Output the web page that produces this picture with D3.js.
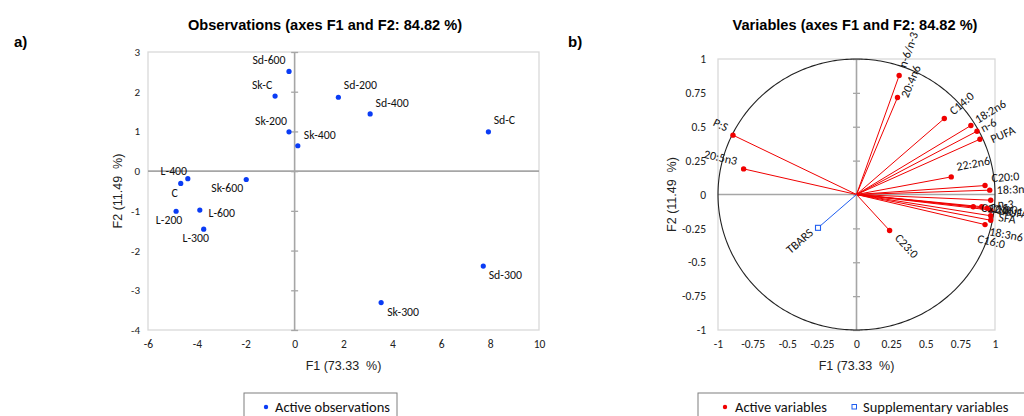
<!DOCTYPE html>
<html>
<head>
<meta charset="utf-8">
<script src="https://cdn.jsdelivr.net/npm/d3@7"></script>
<style>
  body { margin: 0; background: #fff; }
  text { white-space: pre; }
</style>
</head>
<body>
<script>
// observation scores on F1 / F2
const obsNames = ["Sd-600", "Sk-C", "Sd-200", "Sd-400", "Sd-C", "Sk-200", "Sk-400", "L-400", "C", "Sk-600", "L-200", "L-600", "L-300", "Sd-300", "Sk-300"];
const obsF1 = [-0.23, -0.80, 1.79, 3.09, 7.93, -0.23, 0.13, -4.37, -4.66, -1.98, -4.85, -3.88, -3.72, 7.72, 3.54];
const obsF2 = [2.51, 1.89, 1.86, 1.44, 0.99, 0.99, 0.64, -0.19, -0.31, -0.21, -1.01, -0.98, -1.46, -2.39, -3.31];

// active variables, correlations with F1 / F2
const varNames = ["n-6/n-3", "20:4n6", "C14:0", "18:2n6", "n-6", "PUFA", "22:2n6", "C20:0", "18:3n3", "n-3", "C22:0", "C18:0", "C16:1", "MUFA", "SFA", "18:3n6", "C16:0", "C23:0", "P:S", "20:5n3"];
const varF1 = [0.308, 0.296, 0.634, 0.826, 0.870, 0.891, 0.684, 0.928, 0.962, 0.969, 0.843, 0.904, 0.944, 0.969, 0.969, 0.969, 0.928, 0.239, -0.892, -0.815];
const varF2 = [0.878, 0.716, 0.561, 0.509, 0.467, 0.408, 0.130, 0.066, 0.032, -0.042, -0.090, -0.090, -0.102, -0.115, -0.157, -0.190, -0.222, -0.266, 0.438, 0.189];

// supplementary variable
const suppNames = ["TBARS"];
const suppF1 = [-0.278];
const suppF2 = [-0.246];

// axis ticks
const obsXTicks = [-6, -4, -2, 0, 2, 4, 6, 8, 10];
const obsYTicks = [-4, -3, -2, -1, 0, 1, 2, 3];
const varTicks = [-1, -0.75, -0.5, -0.25, 0, 0.25, 0.5, 0.75, 1];

const titleObs = "Observations (axes F1 and F2: 84.82 %)";
const titleVar = "Variables (axes F1 and F2: 84.82 %)";
const xTitle = "F1 (73.33  %)";
const yTitle = "F2 (11.49  %)";

const sansFont = "'Liberation Sans', Arial, sans-serif";
const calFont = "Carlito, Lato, sans-serif";

// label placement for the observation chart (offset of label centre)
const obsLabelOffset = {
  "Sd-600": [-20, -11], "Sk-C": [-13, -11], "Sd-200": [22, -12], "Sd-400": [22, -11],
  "Sd-C": [16, -12], "Sk-200": [-18, -11], "Sk-400": [22, -11], "L-400": [-14, -8],
  "C": [-6, 10], "Sk-600": [-19, 9], "L-200": [-7, 9], "L-600": [22, 3],
  "L-300": [-8, 9], "Sd-300": [22, 9], "Sk-300": [22, 9]
};
// [gap along vector, shift across vector] for the variable labels
const varLabelNudge = {
  "n-6/n-3": [9, 0], "20:4n6": [3, 6], "C14:0": [9, 0], "18:2n6": [7, -2],
  "n-6": [5, 0], "PUFA": [10, 5], "22:2n6": [7, -9], "C20:0": [7, -7],
  "18:3n3": [7, 0], "n-3": [7, 3], "18:3n6": [1, 11], "C16:0": [-4, 15],
  "C23:0": [9, -2], "P:S": [8, 4], "20:5n3": [8, 6], "TBARS": [7, 2]
};

const svg = d3.select("body").append("svg")
    .attr("width", 1024)
    .attr("height", 416);

// ---------- a) observations ----------
let L = {x0: 148, x1: 539, y0: 52, y1: 330};

let x1 = d3.scaleLinear().domain([-6, 10]).range([L.x0, L.x1]);
let y1 = d3.scaleLinear().domain([-4, 3]).range([L.y1, L.y0]);

let left = svg.append("g");

left.append("rect")
    .attr("x", L.x0).attr("y", L.y0)
    .attr("width", L.x1 - L.x0).attr("height", L.y1 - L.y0)
    .attr("fill", "none").attr("stroke", "#d9d9d9").attr("stroke-width", 1.3);

left.append("line")
    .attr("x1", L.x0).attr("x2", L.x1)
    .attr("y1", y1(0)).attr("y2", y1(0))
    .attr("stroke", "#a6a6a6").attr("stroke-width", 1.6);
left.append("line")
    .attr("x1", x1(0)).attr("x2", x1(0))
    .attr("y1", L.y0).attr("y2", L.y1)
    .attr("stroke", "#a6a6a6").attr("stroke-width", 1.6);

// cross ticks on the vertical zero axis
left.append("g")
    .attr("transform", "translate(" + x1(0) + ",0)")
    .call(d3.axisLeft(y1).tickValues(obsYTicks).tickSize(0).tickFormat(""))
    .call(g => g.select(".domain").remove())
    .call(g => g.selectAll(".tick line").attr("x1", -3.5).attr("x2", 3.5)
        .attr("stroke", "#a6a6a6").attr("stroke-width", 1.3));

left.append("g")
    .attr("transform", "translate(" + L.x0 + ",0)")
    .call(d3.axisLeft(y1).tickValues(obsYTicks).tickSize(0).tickPadding(8).tickFormat(d => String(d)))
    .call(g => g.select(".domain").remove())
    .call(g => g.selectAll("text").attr("font-family", calFont).attr("font-size", 11).attr("fill", "#222"));

left.append("g")
    .attr("transform", "translate(0," + L.y1 + ")")
    .call(d3.axisBottom(x1).tickValues(obsXTicks).tickSize(0).tickPadding(10).tickFormat(d => String(d)))
    .call(g => g.select(".domain").remove())
    .call(g => g.selectAll("text").attr("font-family", calFont).attr("font-size", 11.5).attr("fill", "#222"));

let obs = obsNames.map((n, i) => ({name: n, f1: obsF1[i], f2: obsF2[i]}));

left.selectAll(".pt").data(obs).enter().append("circle")
    .attr("class", "pt")
    .attr("cx", d => x1(d.f1))
    .attr("cy", d => y1(d.f2))
    .attr("r", 2.6)
    .attr("fill", "#0a3cf5");

left.selectAll(".lbl").data(obs).enter().append("text")
    .attr("class", "lbl")
    .attr("x", d => x1(d.f1) + obsLabelOffset[d.name][0])
    .attr("y", d => y1(d.f2) + obsLabelOffset[d.name][1])
    .attr("text-anchor", "middle")
    .attr("dominant-baseline", "central")
    .attr("font-family", calFont).attr("font-size", 11.8).attr("fill", "#111")
    .text(d => d.name);

svg.append("text")
    .attr("x", (L.x0 + L.x1) / 2).attr("y", 366)
    .attr("text-anchor", "middle").attr("dominant-baseline", "central")
    .attr("font-family", sansFont).attr("font-size", 12.5).attr("fill", "#222")
    .text(xTitle);
svg.append("text")
    .attr("transform", "translate(118," + ((L.y0 + L.y1) / 2) + ") rotate(-90)")
    .attr("text-anchor", "middle").attr("dominant-baseline", "central")
    .attr("font-family", sansFont).attr("font-size", 12.5).attr("fill", "#222")
    .text(yTitle);

svg.append("text")
    .attr("x", 325).attr("y", 25)
    .attr("text-anchor", "middle").attr("dominant-baseline", "central")
    .attr("font-family", sansFont).attr("font-weight", "bold").attr("font-size", 14.6)
    .text(titleObs);
svg.append("text")
    .attr("x", 14).attr("y", 41)
    .attr("dominant-baseline", "central")
    .attr("font-family", sansFont).attr("font-weight", "bold").attr("font-size", 15)
    .text("a)");

// ---------- b) variables ----------
let R = {x0: 718, x1: 995, y0: 59, y1: 330};

let x2 = d3.scaleLinear().domain([-1, 1]).range([R.x0, R.x1]);
let y2 = d3.scaleLinear().domain([-1, 1]).range([R.y1, R.y0]);

let right = svg.append("g");

right.append("rect")
    .attr("x", R.x0).attr("y", R.y0)
    .attr("width", R.x1 - R.x0).attr("height", R.y1 - R.y0)
    .attr("fill", "none").attr("stroke", "#d9d9d9").attr("stroke-width", 1.3);

right.append("line")
    .attr("x1", R.x0).attr("x2", R.x1)
    .attr("y1", y2(0)).attr("y2", y2(0))
    .attr("stroke", "#a6a6a6").attr("stroke-width", 1.6);
right.append("line")
    .attr("x1", x2(0)).attr("x2", x2(0))
    .attr("y1", R.y0).attr("y2", R.y1)
    .attr("stroke", "#a6a6a6").attr("stroke-width", 1.6);

right.append("g")
    .attr("transform", "translate(" + x2(0) + ",0)")
    .call(d3.axisLeft(y2).tickValues(varTicks).tickSize(0).tickFormat(""))
    .call(g => g.select(".domain").remove())
    .call(g => g.selectAll(".tick line").attr("x1", -3.5).attr("x2", 3.5)
        .attr("stroke", "#a6a6a6").attr("stroke-width", 1.3));

right.append("g")
    .attr("transform", "translate(" + R.x0 + ",0)")
    .call(d3.axisLeft(y2).tickValues(varTicks).tickSize(0).tickPadding(12).tickFormat(d => String(d)))
    .call(g => g.select(".domain").remove())
    .call(g => g.selectAll("text").attr("font-family", calFont).attr("font-size", 11.5).attr("fill", "#222"));

right.append("g")
    .attr("transform", "translate(0," + R.y1 + ")")
    .call(d3.axisBottom(x2).tickValues(varTicks).tickSize(0).tickPadding(10).tickFormat(d => String(d)))
    .call(g => g.select(".domain").remove())
    .call(g => g.selectAll("text").attr("font-family", calFont).attr("font-size", 11.5).attr("fill", "#222"));

// correlation circle
let circle = d3.line()
    .x(a => x2(Math.cos(a)))
    .y(a => y2(Math.sin(a)));
right.append("path")
    .attr("d", circle(d3.range(0, 361).map(a => a * Math.PI / 180)))
    .attr("fill", "none").attr("stroke", "#222").attr("stroke-width", 1.1);

let vars = varNames.map((n, i) => ({name: n, f1: varF1[i], f2: varF2[i], supp: false}))
    .concat(suppNames.map((n, i) => ({name: n, f1: suppF1[i], f2: suppF2[i], supp: true})));

right.selectAll(".vec").data(vars).enter().append("line")
    .attr("class", "vec")
    .attr("x1", x2(0)).attr("y1", y2(0))
    .attr("x2", d => x2(d.f1)).attr("y2", d => y2(d.f2))
    .attr("stroke", d => d.supp ? "#1f5ef0" : "#f00000")
    .attr("stroke-width", 1);

right.selectAll(".vpt").data(vars.filter(d => !d.supp)).enter().append("circle")
    .attr("class", "vpt")
    .attr("cx", d => x2(d.f1)).attr("cy", d => y2(d.f2))
    .attr("r", 2.7).attr("fill", "#f00000");

right.selectAll(".spt").data(vars.filter(d => d.supp)).enter().append("rect")
    .attr("class", "spt")
    .attr("x", d => x2(d.f1) - 2.5).attr("y", d => y2(d.f2) - 2.5)
    .attr("width", 5).attr("height", 5)
    .attr("fill", "#fff").attr("stroke", "#1f5ef0").attr("stroke-width", 1.1);

right.selectAll(".vlbl").data(vars).enter().append("text")
    .attr("class", "vlbl")
    .each(function(d) {
        let px = x2(d.f1), py = y2(d.f2);
        let dx = px - x2(0), dy = py - y2(0);
        let len = Math.sqrt(dx * dx + dy * dy);
        let ux = dx / len, uy = dy / len;
        let nudge = varLabelNudge[d.name] || [8, 0];
        let tx = px + ux * nudge[0] - uy * nudge[1];
        let ty = py + uy * nudge[0] + ux * nudge[1];
        let ang = ux >= 0 ? Math.atan2(uy, ux) : Math.atan2(-uy, -ux);
        d3.select(this)
            .attr("transform", "translate(" + tx + "," + ty + ") rotate(" + (ang * 180 / Math.PI) + ")")
            .attr("text-anchor", ux >= 0 ? "start" : "end");
    })
    .attr("dominant-baseline", "central")
    .attr("font-family", calFont).attr("font-size", 12).attr("fill", "#111")
    .text(d => d.name);

svg.append("text")
    .attr("x", (R.x0 + R.x1) / 2).attr("y", 366)
    .attr("text-anchor", "middle").attr("dominant-baseline", "central")
    .attr("font-family", sansFont).attr("font-size", 12.5).attr("fill", "#222")
    .text(xTitle);
svg.append("text")
    .attr("transform", "translate(672," + ((R.y0 + R.y1) / 2) + ") rotate(-90)")
    .attr("text-anchor", "middle").attr("dominant-baseline", "central")
    .attr("font-family", sansFont).attr("font-size", 12.5).attr("fill", "#222")
    .text(yTitle);

svg.append("text")
    .attr("x", 855).attr("y", 25)
    .attr("text-anchor", "middle").attr("dominant-baseline", "central")
    .attr("font-family", sansFont).attr("font-weight", "bold").attr("font-size", 14.6)
    .text(titleVar);
svg.append("text")
    .attr("x", 568).attr("y", 41)
    .attr("dominant-baseline", "central")
    .attr("font-family", sansFont).attr("font-weight", "bold").attr("font-size", 15)
    .text("b)");

// ---------- legends ----------
let legL = svg.append("g");
legL.append("rect")
    .attr("x", 244).attr("y", 393).attr("width", 153).attr("height", 40)
    .attr("fill", "none").attr("stroke", "#7f7f7f").attr("stroke-width", 1);
legL.append("circle").attr("cx", 266).attr("cy", 407).attr("r", 2.2).attr("fill", "#0a3cf5");
legL.append("text")
    .attr("x", 275).attr("y", 407).attr("dominant-baseline", "central")
    .attr("font-family", calFont).attr("font-size", 14.5).attr("fill", "#111")
    .text("Active observations");

let legR = svg.append("g");
legR.append("rect")
    .attr("x", 698).attr("y", 393).attr("width", 340).attr("height", 40)
    .attr("fill", "none").attr("stroke", "#7f7f7f").attr("stroke-width", 1);
legR.append("circle").attr("cx", 725).attr("cy", 407).attr("r", 2.2).attr("fill", "#f00000");
legR.append("text")
    .attr("x", 735).attr("y", 407).attr("dominant-baseline", "central")
    .attr("font-family", calFont).attr("font-size", 14.5).attr("fill", "#111")
    .text("Active variables");
legR.append("rect")
    .attr("x", 852).attr("y", 404.5).attr("width", 4.5).attr("height", 4.5)
    .attr("fill", "#fff").attr("stroke", "#1f5ef0").attr("stroke-width", 1);
legR.append("text")
    .attr("x", 863).attr("y", 407).attr("dominant-baseline", "central")
    .attr("font-family", calFont).attr("font-size", 14.5).attr("fill", "#111")
    .text("Supplementary variables");
</script>
</body>
</html>
